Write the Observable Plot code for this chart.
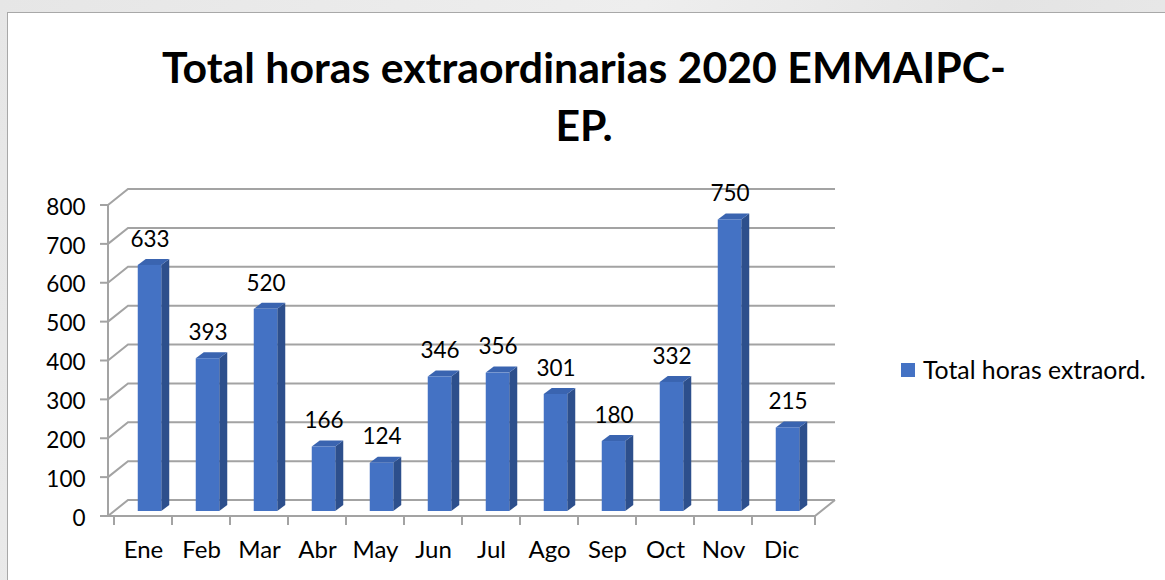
<!DOCTYPE html>
<html>
<head>
<meta charset="utf-8">
<script src="https://cdn.jsdelivr.net/npm/d3@7"></script>
<script src="https://cdn.jsdelivr.net/npm/@observablehq/plot@0.6"></script>
<style>
  html, body { margin: 0; padding: 0; width: 1165px; height: 580px; overflow: hidden; }
  body { position: relative; background: linear-gradient(115deg, #e6e6e6 0%, #eeeeee 45%, #e4e4e4 70%, #ececec 100%); font-family: Lato, "Open Sans", sans-serif; }
  #panel { position: absolute; left: 7px; top: 12px; width: 1180px; height: 600px; background: #ffffff; border: 1.5px solid #a8a8a8; }
  .tline { position: absolute; left: 0; width: 1168px; text-align: center; font-weight: bold; font-size: 42.8px; line-height: 58px; color: #000; white-space: nowrap; }
  #chart { position: absolute; left: 0; top: 160px; }
  #legend { position: absolute; left: 901px; top: 355px; display: flex; align-items: center; font-size: 24.8px; color: #000; white-space: nowrap; }
  #legend .sw { width: 14px; height: 14px; background: #4472C4; margin-right: 8px; }
</style>
</head>
<body>
<div id="panel"></div>
<div class="tline" style="top:38px">Total horas extraordinarias 2020 EMMAIPC-</div>
<div class="tline" style="top:96px">EP.</div>
<div id="chart"></div>
<div id="legend"><div class="sw"></div><span>Total horas extraord.</span></div>
<script>
// ---- data ----
const months = ["Ene","Feb","Mar","Abr","May","Jun","Jul","Ago","Sep","Oct","Nov","Dic"];
const hours  = [633, 393, 520, 166, 124, 346, 356, 301, 180, 332, 750, 215];
const yTicks = [0, 100, 200, 300, 400, 500, 600, 700, 800];

const table = months.map((m, i) => ({month: m, value: hours[i]}));

const gridColor = "#a3a3a3";
const wallDX = 20, wallDY = -16;
const barShiftX = 6.5, barShiftY = -5, barHalf = 11.75, barDX = 8, barDY = -6;
const frontColor = "#4472C4", sideColor = "#2D4F8C", topColor = "#3A64B0";

function walls(index, scales) {
  const x = scales.x, y = scales.y;
  const [x0, x1] = x.range();
  const g = d3.create("svg:g").attr("fill", "none").attr("stroke", gridColor).attr("stroke-width", 2);
  for (const t of yTicks) {
    const v = y(t);
    g.append("path").attr("d", `M${x0},${v}L${x0 + wallDX},${v + wallDY}H${x1 + wallDX}`);
    g.append("path").attr("d", `M${x0 - 8},${v}H${x0}`);
  }
  g.append("path").attr("d", `M${x0},${y(0)}V${y(yTicks[yTicks.length - 1])}`);
  g.append("path").attr("d", `M${x0},${y(0)}H${x1}L${x1 + wallDX},${y(0) + wallDY}`);
  for (const m of months) g.append("path").attr("d", `M${x(m)},${y(0)}v9`);
  g.append("path").attr("d", `M${x1},${y(0)}v9`);
  return g.node();
}

function bars3d(index, scales) {
  const x = scales.x, y = scales.y;
  const bw = x.bandwidth();
  const g = d3.create("svg:g");
  table.forEach(d => {
    const cx = x(d.month) + bw / 2 + barShiftX;
    const L = cx - barHalf, R = cx + barHalf;
    const B = y(0) + barShiftY, T = y(d.value) + barShiftY;
    g.append("path").attr("fill", sideColor)
      .attr("d", `M${R},${B}L${R},${T}L${R + barDX},${T + barDY}L${R + barDX},${B + barDY}Z`);
    g.append("path").attr("fill", topColor)
      .attr("d", `M${L},${T}L${R},${T}L${R + barDX},${T + barDY}L${L + barDX},${T + barDY}Z`);
    g.append("rect").attr("fill", frontColor)
      .attr("x", L).attr("y", T).attr("width", R - L).attr("height", B - T);
  });
  return g.node();
}

const chart = Plot.plot({
  width: 1165,
  height: 420,
  marginLeft: 108,
  marginRight: 350,
  marginTop: 45,
  marginBottom: 64,
  style: {background: "transparent", fontFamily: "Lato, 'Open Sans', sans-serif", fontSize: "22px", color: "#000", overflow: "visible"},
  x: {type: "band", domain: months, padding: 0},
  y: {type: "linear", domain: [0, 800]},
  marks: [
    walls,
    bars3d,
    Plot.text(table, {x: "month", y: "value", text: d => String(d.value), dx: 6.5, dy: -31, fontSize: 22.5, fill: "#000", lineAnchor: "middle"}),
    Plot.axisY({ticks: yTicks, tickSize: 0, tickPadding: 23, fontSize: 22.5, fill: "#000", dy: 2, label: null}),
    Plot.axisX({tickSize: 0, tickPadding: 24, fontSize: 24, fill: "#000", label: null})
  ]
});
document.getElementById("chart").appendChild(chart);
</script>
</body>
</html>
